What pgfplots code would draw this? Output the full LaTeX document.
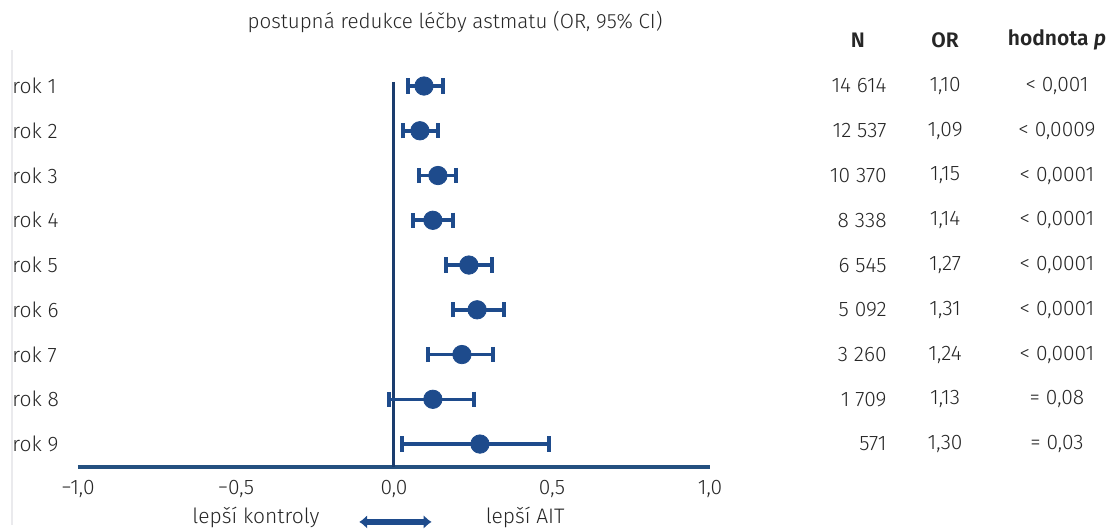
\documentclass[border=0pt]{standalone}
\usepackage{fontspec}
\setmainfont{Fira Sans Light}[BoldFont={Fira Sans SemiBold},BoldItalicFont={Fira Sans SemiBold Italic}]
\usepackage{pgfplots}
\usepackage{pgfplotstable}
\pgfplotsset{compat=1.18}
\usetikzlibrary{arrows.meta}
\definecolor{navy}{HTML}{1E4B8C}
\definecolor{navyline}{HTML}{1A3C6E}
\definecolor{axisblue}{HTML}{24507F}
\definecolor{txt}{HTML}{262626}

\pgfplotstableread{
row x em ep
1 0.095 0.051 0.060
2 0.082 0.054 0.057
3 0.139 0.060 0.057
4 0.123 0.063 0.064
5 0.237 0.072 0.073
6 0.263 0.076 0.085
7 0.215 0.107 0.098
8 0.123 0.139 0.130
9 0.272 0.247 0.218
}\ordata

\begin{document}
\begin{tikzpicture}[font=\fontsize{10.5pt}{12pt}\selectfont, every node/.style={text=txt}]
\begin{axis}[
  scale only axis,
  width=316pt, height=212.9pt,
  xmin=-1, xmax=1, ymin=0, ymax=9.514,
  y dir=reverse,
  clip=false,
  axis x line*=bottom,
  axis y line=none,
  x axis line style={line width=1.9pt, color=axisblue},
  xtick={-1,-0.5,0,0.5,1},
  xticklabels={{−1,0},{−0,5},{0,0},{0,5},{1,0}},
  major tick length=0pt,
  xticklabel style={text=txt, yshift=-3pt, font=\fontsize{10.5pt}{12pt}\selectfont},
  ytick=\empty,
]
% faint left rule
\draw[color=blue!8!gray!15, line width=0.8pt] (axis cs:-1.209,0.2) -- (axis cs:-1.209,10.8);
% zero line
\addplot[line width=1.5pt, color=navyline, forget plot] coordinates {(0,0.91) (0,9.514)};
% estimates with CI
\addplot[only marks, color=navy, mark=*, mark size=4.6pt,
  error bars/.cd, x dir=both, x explicit, error mark=|,
  error bar style={line width=1.8pt, color=navy},
  error mark options={line width=1.8pt, mark size=3.8pt, color=navy}]
  table[x=x, y=row, x error minus=em, x error plus=ep]{\ordata};

% title
\node[font=\fontsize{10.3pt}{12pt}\selectfont] at (axis cs:0.193,-0.43) {postupná redukce léčby astmatu (OR, 95\% CI)};
% row labels
\node[anchor=west, inner sep=0pt] at (axis cs:-1.209,1) {rok 1};
\node[anchor=west, inner sep=0pt] at (axis cs:-1.209,2) {rok 2};
\node[anchor=west, inner sep=0pt] at (axis cs:-1.209,3) {rok 3};
\node[anchor=west, inner sep=0pt] at (axis cs:-1.209,4) {rok 4};
\node[anchor=west, inner sep=0pt] at (axis cs:-1.209,5) {rok 5};
\node[anchor=west, inner sep=0pt] at (axis cs:-1.209,6) {rok 6};
\node[anchor=west, inner sep=0pt] at (axis cs:-1.209,7) {rok 7};
\node[anchor=west, inner sep=0pt] at (axis cs:-1.209,8) {rok 8};
\node[anchor=west, inner sep=0pt] at (axis cs:-1.209,9) {rok 9};
% headers
\node at (axis cs:1.468,-0.028) {\bfseries N};
\node at (axis cs:1.744,-0.028) {\bfseries OR};
\node at (axis cs:2.098,-0.028) {\bfseries hodnota \textit{p}};
% N column
\node[anchor=east, inner sep=0pt] at (axis cs:1.560,1) {14~614};
\node[anchor=east, inner sep=0pt] at (axis cs:1.560,2) {12~537};
\node[anchor=east, inner sep=0pt] at (axis cs:1.560,3) {10~370};
\node[anchor=east, inner sep=0pt] at (axis cs:1.560,4) {8~338};
\node[anchor=east, inner sep=0pt] at (axis cs:1.560,5) {6~545};
\node[anchor=east, inner sep=0pt] at (axis cs:1.560,6) {5~092};
\node[anchor=east, inner sep=0pt] at (axis cs:1.560,7) {3~260};
\node[anchor=east, inner sep=0pt] at (axis cs:1.560,8) {1~709};
\node[anchor=east, inner sep=0pt] at (axis cs:1.560,9) {571};
% OR column
\node at (axis cs:1.744,1) {1,10};
\node at (axis cs:1.744,2) {1,09};
\node at (axis cs:1.744,3) {1,15};
\node at (axis cs:1.744,4) {1,14};
\node at (axis cs:1.744,5) {1,27};
\node at (axis cs:1.744,6) {1,31};
\node at (axis cs:1.744,7) {1,24};
\node at (axis cs:1.744,8) {1,13};
\node at (axis cs:1.744,9) {1,30};
% p column
\node at (axis cs:2.098,1) {< 0,001};
\node at (axis cs:2.098,2) {< 0,0009};
\node at (axis cs:2.098,3) {< 0,0001};
\node at (axis cs:2.098,4) {< 0,0001};
\node at (axis cs:2.098,5) {< 0,0001};
\node at (axis cs:2.098,6) {< 0,0001};
\node at (axis cs:2.098,7) {< 0,0001};
\node at (axis cs:2.098,8) {= 0,08};
\node at (axis cs:2.098,9) {= 0,03};
% bottom annotations
\node at (axis cs:-0.437,10.65) {lepší kontroly};
\node at (axis cs:0.415,10.65) {lepší AIT};
\draw[{Latex[length=4pt,width=7pt]}-{Latex[length=4pt,width=7pt]}, line width=3.4pt, color=navy]
  (axis cs:-0.110,10.74) -- (axis cs:0.119,10.74);
\coordinate (bbA) at (axis cs:-1.2468,-0.922);
\coordinate (bbB) at (axis cs:2.2563,10.922);
\end{axis}
\pgfresetboundingbox
\path[use as bounding box] (bbA) rectangle (bbB);
\end{tikzpicture}
\end{document}
